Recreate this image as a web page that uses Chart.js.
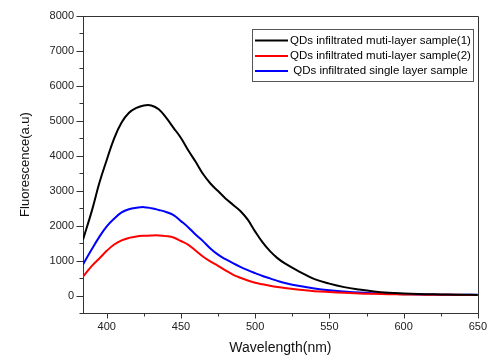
<!DOCTYPE html>
<html>
<head>
<meta charset="utf-8">
<script src="https://cdn.jsdelivr.net/npm/chart.js@4/dist/chart.umd.min.js"></script>
<style>
html,body{margin:0;padding:0;background:#fff;}
canvas{display:block;}
</style>
</head>
<body>
<canvas id="c" width="494" height="358"></canvas>
<script>
// ---- data ----
const wavelengths = [384,390,395,400,405,410,415,420,425,430,435,440,445,450,455,460,465,470,475,480,485,490,495,500,505,510,515,520,530,540,550,560,570,580,590,600,610,620,630,640,650];
const sample1 = [1600,2430,3220,3880,4500,4950,5230,5370,5440,5440,5330,5090,4800,4510,4150,3820,3470,3200,2990,2780,2600,2420,2170,1830,1520,1270,1070,920,680,470,340,240,170,115,80,60,45,35,28,22,18];
const sample2 = [540,850,1060,1280,1460,1580,1650,1690,1710,1720,1720,1700,1660,1560,1450,1280,1110,970,850,720,600,510,430,365,320,280,245,215,165,125,100,80,60,48,40,32,27,22,20,18,15];
const single  = [886,1330,1680,1980,2200,2380,2470,2510,2530,2500,2450,2390,2300,2130,1950,1740,1550,1340,1170,1040,925,820,725,640,560,490,420,360,270,200,150,115,85,65,50,40,33,28,24,21,20];
const seriesLabels = ['QDs infiltrated muti-layer sample(1)','QDs infiltrated muti-layer sample(2)',' QDs infiltrated single layer sample'];
const seriesColors = ['#000000','#ff0000','#0000ff'];
const xTickValues = [400,450,500,550,600,650];
const xMinorTicks = [425,475,525,575,625];
const yTickValues = [0,1000,2000,3000,4000,5000,6000,7000,8000];
const yMinorTicks = [-500,500,1500,2500,3500,4500,5500,6500,7500];

const FONT = 'Arial, "Liberation Sans", sans-serif';
const AXIS = '#333333';

function toPts(arr){ return wavelengths.map((w,i)=>({x:w,y:arr[i]})); }

const frameAndTicks = {
  id:'frameAndTicks',
  afterDraw(chart){
    const ctx = chart.ctx, a = chart.chartArea;
    const xs = chart.scales.x, ys = chart.scales.y;
    ctx.save();
    ctx.strokeStyle = AXIS; ctx.lineWidth = 1;
    ctx.beginPath();
    ctx.moveTo(Math.round(a.left)+0.5, Math.round(a.top)+0.5);
    ctx.lineTo(Math.round(a.right)+0.5, Math.round(a.top)+0.5);
    ctx.lineTo(Math.round(a.right)+0.5, Math.round(a.bottom)+0.5);
    ctx.stroke();
    const xt = xTickValues.map(v=>[v,5]).concat(xMinorTicks.map(v=>[v,3]));
    xt.forEach(([v,len])=>{
      const px = Math.round(xs.getPixelForValue(v))+0.5;
      ctx.beginPath(); ctx.moveTo(px, Math.round(a.bottom)); ctx.lineTo(px, Math.round(a.bottom)+len+0.5); ctx.stroke();
    });
    const yt = yTickValues.map(v=>[v,6]).concat(yMinorTicks.map(v=>[v,3]));
    yt.forEach(([v,len])=>{
      const py = Math.round(ys.getPixelForValue(v))+0.5;
      ctx.beginPath(); ctx.moveTo(Math.round(a.left), py); ctx.lineTo(Math.round(a.left)-len-0.5, py); ctx.stroke();
    });
    // legend box
    const lx = 252.5, ly = 29.5, lw = 221, lh = 52;
    ctx.strokeStyle = '#555'; ctx.strokeRect(lx, ly, lw, lh);
    ctx.font = '11.5px ' + FONT; ctx.textBaseline = 'middle'; ctx.textAlign = 'left';
    const rows = [40.5, 56, 71];
    chart.data.datasets.forEach((ds, i) => {
      ctx.strokeStyle = ds.borderColor; ctx.lineWidth = 2;
      ctx.beginPath(); ctx.moveTo(255, rows[i]); ctx.lineTo(288, rows[i]); ctx.stroke();
      ctx.fillStyle = '#000';
      ctx.fillText(ds.label, 290, rows[i]);
    });
    ctx.restore();
  }
};

new Chart(document.getElementById('c'), {
  type:'line',
  data:{
    datasets:[
      {label:seriesLabels[0], data:toPts(sample1), borderColor:seriesColors[0]},
      {label:seriesLabels[1], data:toPts(sample2), borderColor:seriesColors[1]},
      {label:seriesLabels[2], data:toPts(single),  borderColor:seriesColors[2]}
    ]
  },
  options:{
    responsive:false,
    animation:false,
    devicePixelRatio:1,
    layout:{padding:{left:0,right:11,top:16,bottom:0}},
    elements:{
      point:{radius:0},
      line:{borderWidth:2, tension:0.4, fill:false}
    },
    plugins:{legend:{display:false}, tooltip:{enabled:false}},
    scales:{
      x:{
        type:'linear', min:384, max:650,
        afterFit(s){ s.height = 45; },
        afterBuildTicks(s){ s.ticks = xTickValues.map(v => ({value:v})); },
        grid:{drawOnChartArea:false, drawTicks:false},
        border:{display:true, color:AXIS, width:1},
        ticks:{autoSkip:false, maxRotation:0, padding:7, color:'#222',
          font:{family:FONT, size:11}, callback:(v)=>String(v)},
        title:{display:true, text:'Wavelength(nm)', color:'#111',
          font:{family:FONT, size:14}, padding:{top:0,bottom:1}}
      },
      y:{
        type:'linear', min:-500, max:8000,
        afterFit(s){ s.width = 83; },
        afterBuildTicks(s){ s.ticks = yTickValues.map(v => ({value:v})); },
        grid:{drawOnChartArea:false, drawTicks:false},
        border:{display:true, color:AXIS, width:1},
        ticks:{autoSkip:false, padding:9, color:'#222',
          font:{family:FONT, size:11}, callback:(v)=>String(v)},
        title:{display:true, text:'Fluorescence(a.u)', color:'#111',
          font:{family:FONT, size:13}, padding:{top:18,bottom:0}}
      }
    }
  },
  plugins:[frameAndTicks]
});
</script>
</body>
</html>
